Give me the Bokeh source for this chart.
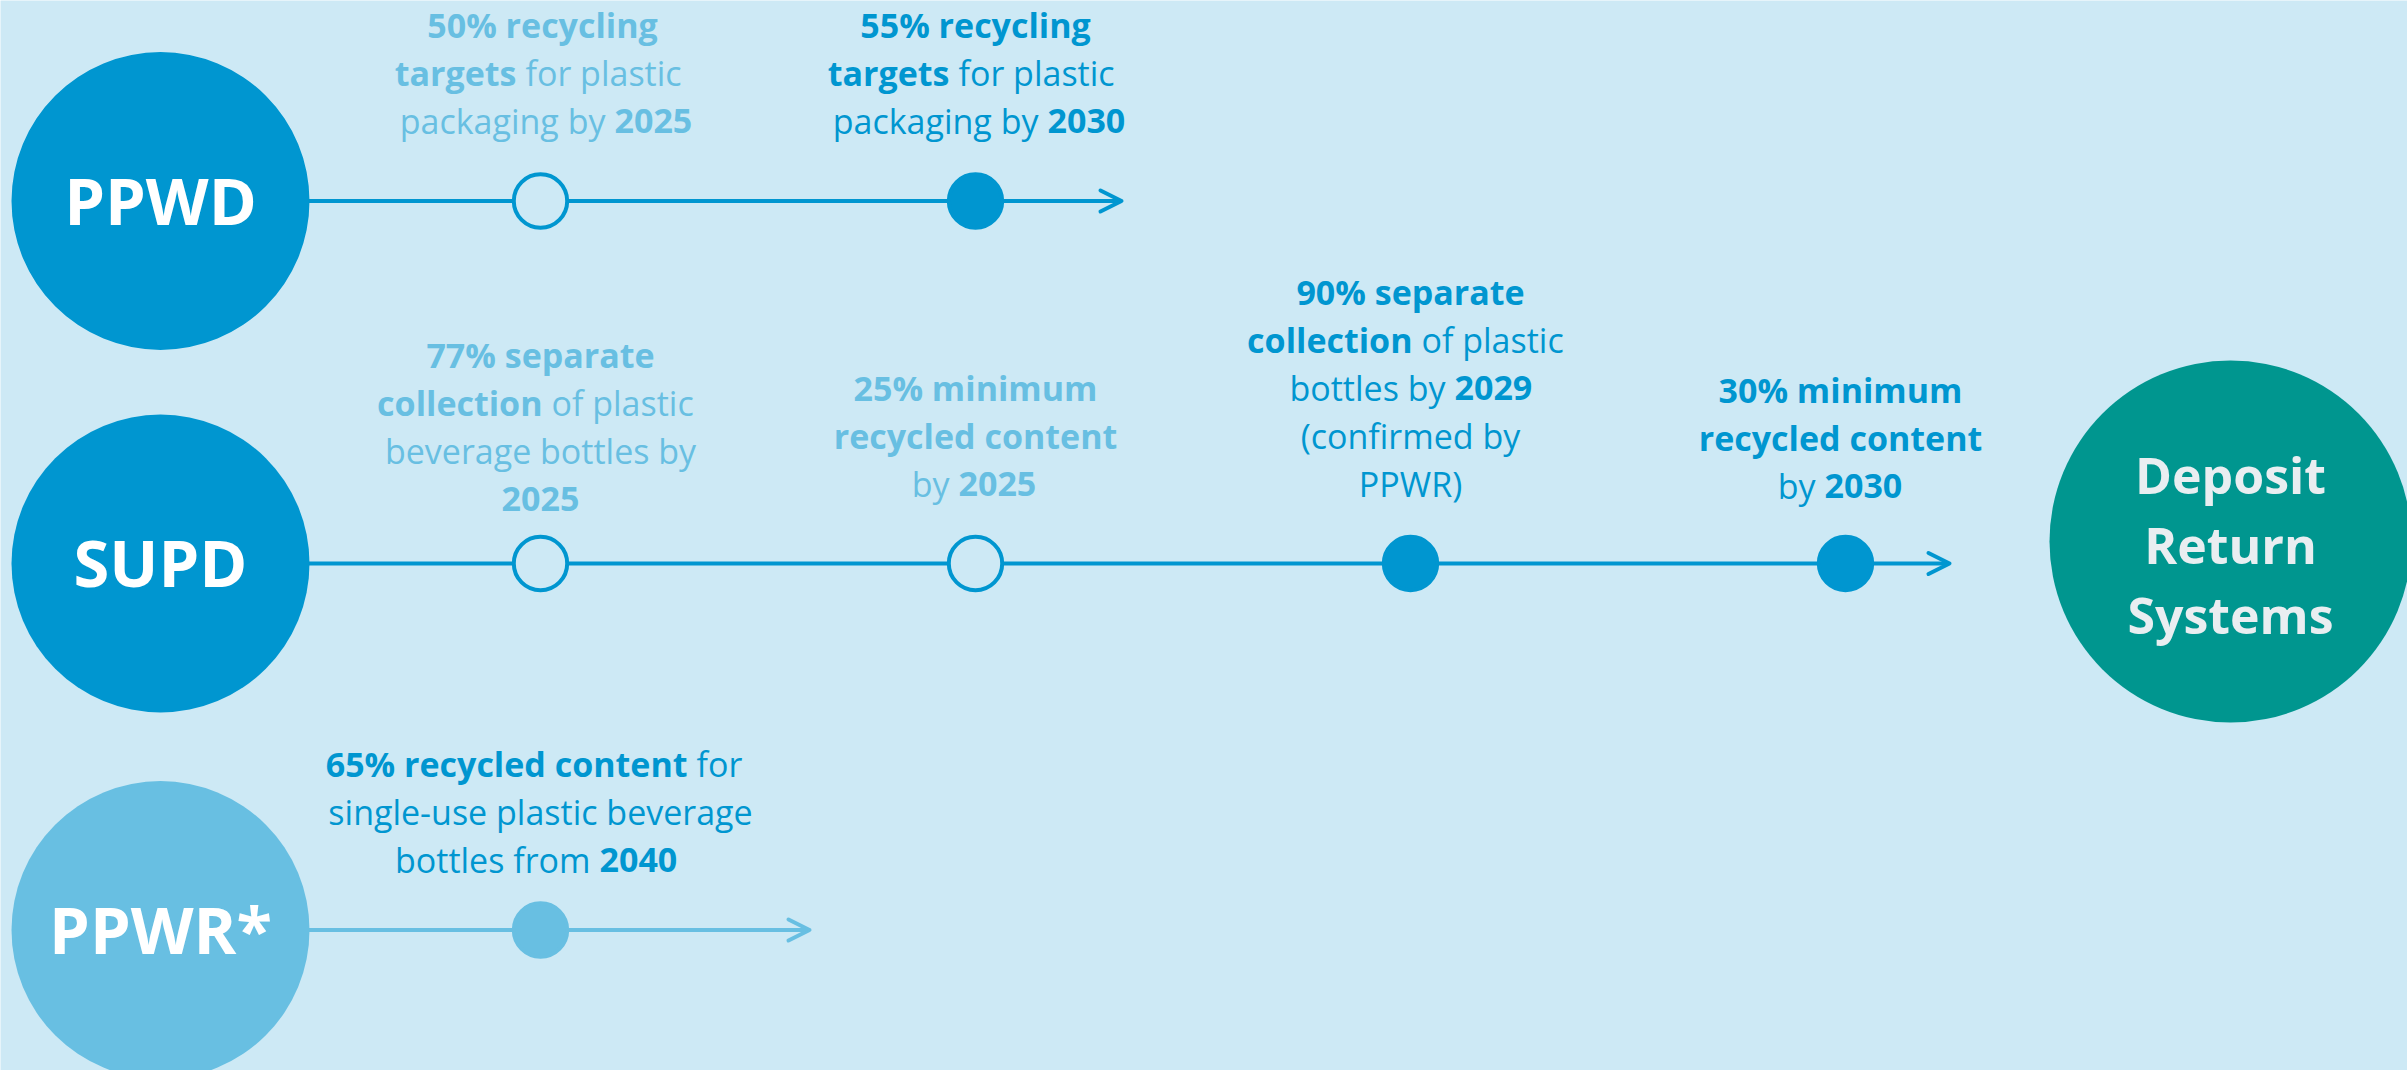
from bokeh.plotting import figure
from bokeh.models import ColumnDataSource, Range1d, Arrow, OpenHead
from bokeh.core.properties import value, field
from bokeh.embed import file_html
from bokeh.resources import INLINE

# ---------------- data ----------------
programmes = ["PPWD", "SUPD", "PPWR*"]
programme_tone = ["dark", "dark", "light"]

ms_programme = ["PPWD", "PPWD", "SUPD", "SUPD", "SUPD", "SUPD", "PPWR*"]
ms_slot = [1, 2, 1, 2, 3, 4, 1]
ms_year = [2025, 2030, 2025, 2025, 2029, 2030, 2040]
ms_filled = [False, True, False, False, True, True, True]
ms_tone = ["light", "dark", "light", "light", "dark", "dark", "dark"]
ms_lines = [
    [[("50% recycling", True)], [("targets", True), ("for plastic", False)],
     [("packaging by", False), ("2025", True)]],
    [[("55% recycling", True)], [("targets", True), ("for plastic", False)],
     [("packaging by", False), ("2030", True)]],
    [[("77% separate", True)], [("collection", True), ("of plastic", False)],
     [("beverage bottles by", False)], [("2025", True)]],
    [[("25% minimum", True)], [("recycled content", True)],
     [("by", False), ("2025", True)]],
    [[("90% separate", True)], [("collection", True), ("of plastic", False)],
     [("bottles by", False), ("2029", True)], [("(confirmed by", False)], [("PPWR)", False)]],
    [[("30% minimum", True)], [("recycled content", True)],
     [("by", False), ("2030", True)]],
    [[("65% recycled content", True), ("for", False)], [("single-use plastic beverage", False)],
     [("bottles from", False), ("2040", True)]],
]
destination_lines = ["Deposit", "Return", "Systems"]

# ---------------- style / layout ----------------
BG = "#cde9f5"
TONES = {"dark": "#0096d0", "light": "#68bfe2"}
TEAL = "#00968f"
FONT = "Open Sans"
BASE_FIX = 0.375  # em shift to put the alphabetic baseline where intended

ROW_Y = [200.5, 563, 929.5]
SLOT_X0, SLOT_DX = 540, 435
PROG_X, PROG_R = 160, 149
ARROW_END = [1121, 1949, 809]
MARK_R = 28.7
MARK_LW = 4
TXT_PX = 34
LINE_H = 48
SPACE = 9
ms_first_baseline = [37, 37, 367, 400, 304, 402, 776]
ms_dx = [2, 0, 0, 0, 0, -5, 0]
ms_junction = [[None, -26, 63], [None, -26, 63], [None, 2, None, None],
               [None, None, -26], [None, 2, 35, None, None], [None, None, -25],
               [147, None, 50]]
LABEL_PX = 65
DEST_X, DEST_Y, DEST_R = 2230, 541, 181
DEST_PX = 50
DEST_BASE, DEST_LH = 493, 70

W, H = 2407, 1070
p = figure(width=W, height=H, x_range=Range1d(0, W), y_range=Range1d(H, 0),
           output_backend="svg", toolbar_location=None, x_axis_type=None, y_axis_type=None,
           min_border=0, background_fill_color=BG, border_fill_color=BG,
           outline_line_color=None)
p.grid.visible = False

def slot_x(s):
    return SLOT_X0 + SLOT_DX * (s - 1)

# timeline arrows
for i, prog in enumerate(programmes):
    c = TONES[programme_tone[i]]
    arr = Arrow(x_start=PROG_X, y_start=ROW_Y[i], x_end=ARROW_END[i], y_end=ROW_Y[i],
                line_color=c, line_width=4, level="underlay",
                end=OpenHead(size=21, line_color=c, line_width=4, line_cap="round",
                             line_join="round"))
    p.add_layout(arr)

# programme circles
p.circle(x=[PROG_X] * len(programmes), y=ROW_Y, radius=PROG_R,
         fill_color=[TONES[t] for t in programme_tone], line_color=None)
p.text(x=[PROG_X] * len(programmes),
       y=[y + 23 - BASE_FIX * LABEL_PX for y in ROW_Y], text=programmes,
       text_font=value(FONT), text_font_size=f"{LABEL_PX}px", text_font_style="bold",
       text_color="white", text_align="center", text_baseline="alphabetic")

# milestone markers
mx, my, mfill, mline, mr = [], [], [], [], []
for k in range(len(ms_slot)):
    row = programmes.index(ms_programme[k])
    c = TONES[programme_tone[row]]
    mx.append(slot_x(ms_slot[k]))
    my.append(ROW_Y[row])
    mfill.append(c if ms_filled[k] else BG)
    mline.append(c)
    mr.append(MARK_R - MARK_LW / 2)
msrc = ColumnDataSource(dict(x=mx, y=my, fill=mfill, line=mline, r=mr))
p.circle(x="x", y="y", radius="r", fill_color="fill", line_color="line",
         line_width=MARK_LW, source=msrc)

# milestone texts
tx, ty, tt, tc, ts, ta = [], [], [], [], [], []
for k in range(len(ms_slot)):
    cx = slot_x(ms_slot[k]) + ms_dx[k]
    col = TONES[ms_tone[k]]
    for j, segs in enumerate(ms_lines[k]):
        y = ms_first_baseline[k] + LINE_H * j - BASE_FIX * TXT_PX
        if len(segs) == 1:
            txt, b = segs[0]
            tx.append(cx); ty.append(y); tt.append(txt); tc.append(col)
            ts.append("bold" if b else "normal"); ta.append("center")
        else:
            jx = cx + ms_junction[k][j]
            (t1, b1), (t2, b2) = segs
            tx += [jx, jx + SPACE]; ty += [y, y]; tt += [t1, t2]; tc += [col, col]
            ts += ["bold" if b1 else "normal", "bold" if b2 else "normal"]
            ta += ["right", "left"]
tsrc = ColumnDataSource(dict(x=tx, y=ty, text=tt, color=tc, style=ts, align=ta))
p.text(x="x", y="y", text="text", source=tsrc, text_font=value(FONT),
       text_font_size=f"{TXT_PX}px", text_font_style=field("style"),
       text_color=field("color"), text_align=field("align"), text_baseline="alphabetic")

# destination
p.circle(x=[DEST_X], y=[DEST_Y], radius=DEST_R, fill_color=TEAL, line_color=None)
p.text(x=[DEST_X] * 3,
       y=[DEST_BASE + DEST_LH * i - BASE_FIX * DEST_PX for i in range(3)],
       text=destination_lines, text_font=value(FONT), text_font_size=f"{DEST_PX}px",
       text_font_style="bold", text_color="#e9eef1", text_align="center",
       text_baseline="alphabetic")

open("out.html", "w").write(file_html(p, INLINE))
